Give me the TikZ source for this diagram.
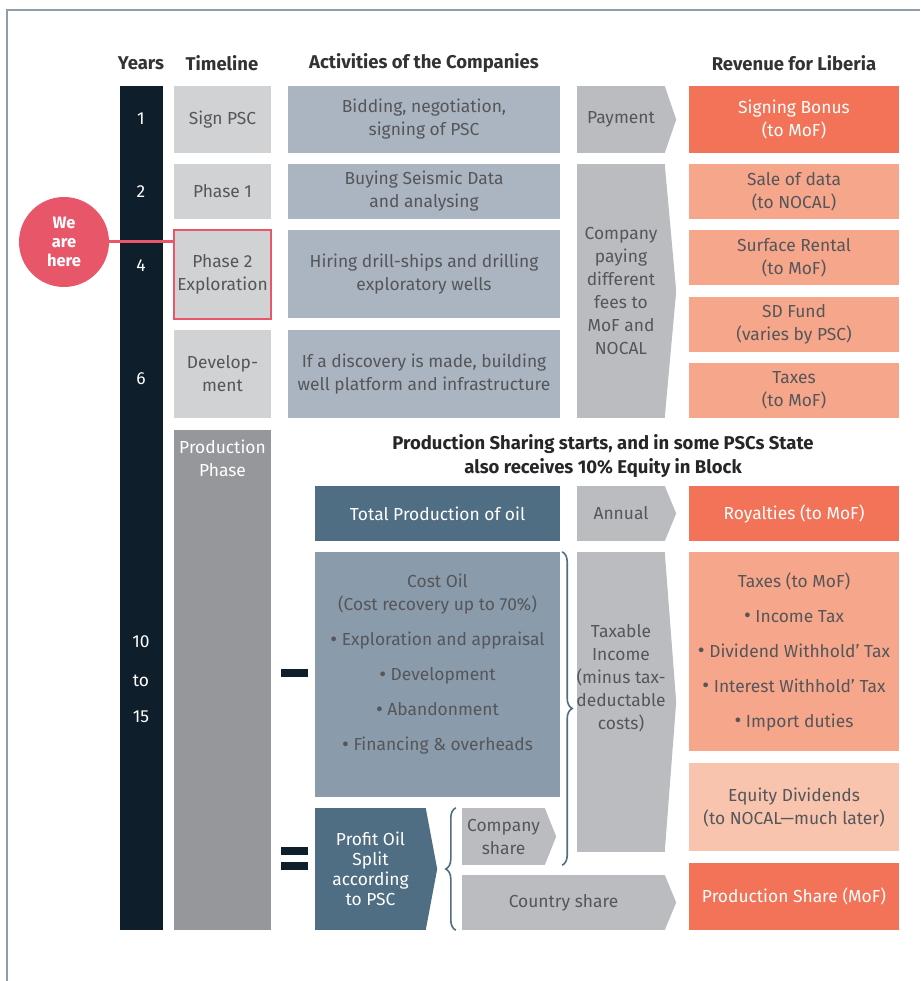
\documentclass[tikz,border=0pt]{standalone}
\usepackage{fontspec}
\setmainfont{Fira Sans}
\usetikzlibrary{positioning,decorations.pathreplacing}

\definecolor{navy}{HTML}{0F1E2B}
\definecolor{tlgray}{HTML}{D1D2D4}
\definecolor{txtgray}{HTML}{555659}
\definecolor{headgray}{HTML}{333333}
\definecolor{actgray}{HTML}{ABB5C1}
\definecolor{chevgray}{HTML}{BBBCC0}
\definecolor{orangedark}{HTML}{F27357}
\definecolor{orangemid}{HTML}{F6A68A}
\definecolor{orangepale}{HTML}{F9C4AE}
\definecolor{petrol}{HTML}{4F6E83}
\definecolor{costblue}{HTML}{8A9BAB}
\definecolor{prodgray}{HTML}{96979B}
\definecolor{herepink}{HTML}{E8566A}
\definecolor{framegray}{HTML}{8C9DAB}

% tip on the right side of a chevron box
\newcommand{\chevtip}[2]{\fill[#2] ([xshift=-0.5pt]#1.north east) -- ([xshift=11pt]#1.east) -- ([xshift=-0.5pt]#1.south east) -- cycle;}
% bigger list bullet
\newcommand{\bul}{{\fontsize{21}{23}\selectfont\raisebox{-0.6pt}{•}}}

\tikzset{
    % Text styles
    head/.style={font=\bfseries\fontsize{18.5}{24}\selectfont, text=headgray},
    body/.style={font=\fontsize{17.4}{23}\selectfont, align=center},
    % Box styles
    box/.style={body, inner sep=0pt},
    year bar/.style={box, fill=navy, minimum width=43pt},
    year label/.style={body, text=white},
    tl box/.style={box, fill=tlgray, text=txtgray, minimum width=97pt},
    prod box/.style={box, fill=prodgray, minimum width=97pt},
    act box/.style={box, fill=actgray, text=txtgray, minimum width=272pt},
    chev/.style={box, fill=chevgray, text=txtgray, minimum width=88pt},
    rev dark/.style={box, fill=orangedark, text=white, minimum width=210pt},
    rev mid/.style={box, fill=orangemid, text=txtgray, minimum width=210pt},
    rev pale/.style={box, fill=orangepale, text=txtgray, minimum width=210pt},
    oil box/.style={box, fill=petrol, text=white},
    cost box/.style={box, fill=costblue, text=txtgray, minimum width=245pt},
    sign bar/.style={fill=navy, inner sep=0pt, minimum width=27pt, minimum height=8.5pt},
    % We are here
    here/.style={circle, fill=herepink, text=white, inner sep=0pt, minimum size=90pt,
        align=center, font=\bfseries\fontsize{16.5}{19}\selectfont},
    here line/.style={herepink, line width=3pt},
    % Braces and frame
    brace line/.style={decorate, decoration={brace, amplitude=10pt}, petrol, line width=1.6pt},
    frame/.style={framegray, line width=1.5pt},
}

\begin{document}
\begin{tikzpicture}[x=1pt, y=-1pt]
    \useasboundingbox (0,0) rectangle (920,981);
    \draw[frame] (7,981) -- (7,10) -- (920,10);

    % Headers
    \node[head] (hyears) at (141,63) {Years};
    \node[head] (htime) at (222,63) {Timeline};
    \node[head] (hact) at (424,63) {Activities of the Companies};
    \node[head] (hrev) at (794,63) {Revenue for Liberia};

    % Years
    \node[year bar, minimum height=844pt] (years) at (141.5,508) {};
    \node[year label] (y1) at (141,119) {1};
    \node[year label] (y2) at (141,192) {2};
    \node[year label] (y4) at (141,266) {4};
    \node[year label] (y6) at (141,379) {6};
    \node[year label] (y10) at (141,642) {10};
    \node[year label] (yto) at (141,681) {to};
    \node[year label] (y15) at (141,717) {15};

    % Timeline
    \node[tl box, minimum height=67pt] (sign) at (222.5,119.5) {Sign PSC};
    \node[tl box, minimum height=55pt] (ph1) at (222.5,191.5) {Phase 1};
    \node[tl box, minimum height=89pt, draw=herepink, line width=2pt] (ph2) at (222.5,274.5) {Phase 2\\Exploration};
    \node[tl box, minimum height=88pt] (dev) at (222.5,374) {Develop-\\ment};
    \node[prod box, minimum height=500pt] (prod) at (222.5,680) {};
    \node[body, text=white] (prodtxt) at (222.5,458.5) {Production\\Phase};

    % We are here
    \coordinate (herec) at (64,242);
    \draw[here line] (herec) -- (herec -| ph2.west);
    \node[here] (here) at (herec) {We\\are\\here};

    % Activities
    \node[act box, minimum height=67pt] (bid) at (424,119.5) {Bidding, negotiation,\\signing of PSC};
    \node[act box, minimum height=55pt] (seis) at (424,191.5) {Buying Seismic Data\\and analysing};
    \node[act box, minimum height=88pt] (hire) at (424,274) {Hiring drill-ships and drilling\\exploratory wells};
    \node[act box, minimum height=88pt] (disc) at (424,374) {If a discovery is made, building\\well platform and infrastructure};

    % Payments
    \node[chev, minimum height=67pt] (pay) at (621,119.5) {Payment};
    \chevtip{pay}{chevgray}
    \node[chev, minimum height=254pt] (fees) at (621,291) {Company\\paying\\different\\fees to\\MoF and\\NOCAL};
    \chevtip{fees}{chevgray}

    % Revenue
    \node[rev dark, minimum height=67pt] (bonus) at (794,119.5) {Signing Bonus\\(to MoF)};
    \node[rev mid, minimum height=55pt] (sale) at (794,191.5) {Sale of data\\(to NOCAL)};
    \node[rev mid, minimum height=55pt] (rent) at (794,257.5) {Surface Rental\\(to MoF)};
    \node[rev mid, minimum height=55pt] (sdf) at (794,324.5) {SD Fund\\(varies by PSC)};
    \node[rev mid, minimum height=55pt] (tax) at (794,390.5) {Taxes\\(to MoF)};

    % Production phase
    \node[head, align=center, text=black!85] (note) at (603,456) {Production Sharing starts, and in some PSCs State\\also receives 10\% Equity in Block};

    \node[oil box, minimum width=245pt, minimum height=55pt] (total) at (437.5,513.5) {Total Production of oil};
    \node[chev, minimum height=55pt] (annual) at (621,513.5) {Annual};
    \chevtip{annual}{chevgray}
    \node[rev dark, minimum height=55pt] (roy) at (794,513.5) {Royalties (to MoF)};

    \node[cost box, minimum height=245pt] (cost) at (437.5,674.5) {};
    \node[body, text=txtgray] (costtxt) at (437.5,664) {Cost Oil\\(Cost recovery up to 70\%)\\[12pt]\bul\ Exploration and appraisal\\[12pt]\bul\ Development\\[12pt]\bul\ Abandonment\\[12pt]\bul\ Financing \& overheads};
    \node[sign bar] (minus) at (294.5,673) {};

    \node[chev, minimum height=300pt] (taxable) at (621,702) {};
    \chevtip{taxable}{chevgray}
    \node[body, text=txtgray] (taxabletxt) at (621,678) {Taxable\\Income\\(minus tax-\\deductable\\costs)};

    \node[rev mid, minimum height=199pt] (taxes) at (794,651.5) {Taxes (to MoF)\\[12pt]\bul\ Income Tax\\[12pt]\bul\ Dividend Withhold’ Tax\\[12pt]\bul\ Interest Withhold’ Tax\\[12pt]\bul\ Import duties};
    \node[rev pale, minimum height=88pt] (equity) at (794,807) {Equity Dividends\\(to NOCAL—much later)};
    \node[rev dark, minimum height=67pt] (pshare) at (794,896.5) {Production Share (MoF)};

    \node[sign bar] (eqtop) at (294.5,851) {};
    \node[sign bar] (eqbot) at (294.5,866) {};
    \node[oil box, minimum width=111pt, minimum height=122pt, font=\fontsize{17.4}{20}\selectfont] (profit) at (370.5,869) {Profit Oil\\Split\\according\\to PSC};
    \chevtip{profit}{petrol}

    \node[chev, minimum width=83pt, minimum height=57pt] (comp) at (503.5,836.5) {Company\\share};
    \chevtip{comp}{chevgray}
    \node[chev, minimum width=203pt, minimum height=55pt] (country) at (563.5,902.5) {Country share};
    \chevtip{country}{chevgray}

    % Braces
    \coordinate (costtop) at ([xshift=2pt]cost.north east);
    \coordinate (costend) at (cost.east |- comp.south);
    \draw[brace line] (costtop) -- ([xshift=2pt]costend);
    \draw[brace line] ([xshift=-6pt]country.south west) -- ([xshift=-6pt]comp.north west);
\end{tikzpicture}
\end{document}
